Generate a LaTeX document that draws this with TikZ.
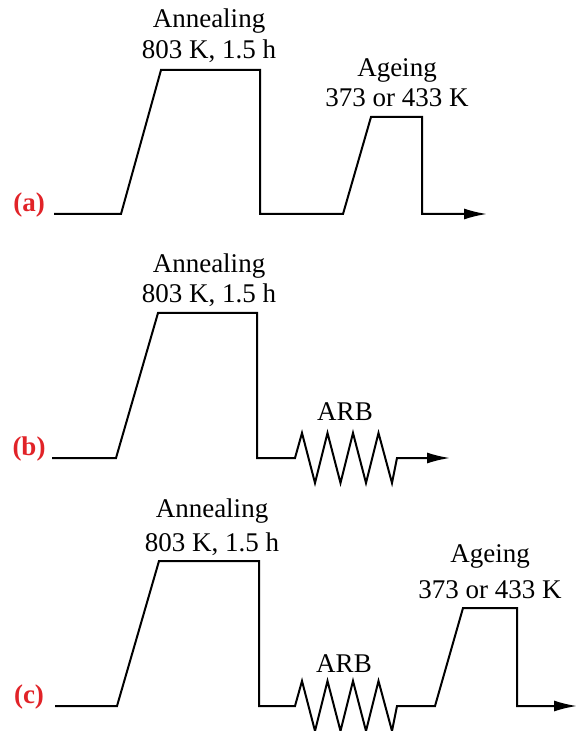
\documentclass[tikz,border=0pt]{standalone}
\usepackage{fontspec}
\setmainfont{Liberation Serif}
\usetikzlibrary{arrows.meta, positioning, calc}
\definecolor{labred}{RGB}{225,35,40}

\begin{document}
\begin{tikzpicture}[x={(0.5pt,0)}, y={(0,-0.5pt)}, line width=1pt, >={Latex[length=11.5pt,width=5.5pt]},
    txt/.style={inner sep=0pt, anchor=base, font=\fontsize{13.5}{16}\selectfont},
    lab/.style={inner sep=0pt, anchor=base, text=labred, font=\fontsize{13.5}{16}\selectfont\bfseries},
    arb/.style={line join=miter}]
  \useasboundingbox (0,0) rectangle (581,731);
  % (a) annealing + ageing
  \node[lab] (la) at (29,212) {(a)};
  \node[txt] (annA) at (209,28) {Annealing};
  \node[txt] (tA) at (209,59) {803 K, 1.5 h};
  \node[txt] (ageA) at (397,77) {Ageing};
  \node[txt] (atA) at (397,107) {373 or 433 K};
  \draw[->] (54,214) -- (121,214) -- (161,70) -- (260,70) -- (260,214) -- (343,214)
    -- (371,117) -- (422,117) -- (422,214) -- (487,214);
  % (b) annealing + ARB
  \node[lab] (lb) at (29,455) {(b)};
  \node[txt] (annB) at (209,273) {Annealing};
  \node[txt] (tB) at (209,303) {803 K, 1.5 h};
  \node[txt] (arbB) at (345,420) {ARB};
  \draw[->,arb] (52,458) -- (116,458) -- (158,313) -- (257,313) -- (257,458) -- (295,458)
    -- ++(7,-25) foreach \k in {1,2,3}{ -- ++(13,50) -- ++(12.5,-50)} -- ++(13.5,50) -- ++(5,-25)
    -- (450,458);
  % (c) annealing + ARB + ageing
  \node[lab] (lc) at (29,703) {(c)};
  \node[txt] (annC) at (212,517) {Annealing};
  \node[txt] (tC) at (212,551) {803 K, 1.5 h};
  \node[txt] (arbC) at (344,672) {ARB};
  \node[txt] (ageC) at (490,562) {Ageing};
  \node[txt] (atC) at (490,598) {373 or 433 K};
  \draw[->,arb] (55,706) -- (117,706) -- (159,561) -- (259,561) -- (259,706) -- (295,706)
    -- ++(7,-25) foreach \k in {1,2,3}{ -- ++(13,50) -- ++(12.5,-50)} -- ++(13.5,50) -- ++(5,-25)
    -- (435,706) -- (463,608) -- (517,608) -- (517,706) -- (577,706);
\end{tikzpicture}
\end{document}
